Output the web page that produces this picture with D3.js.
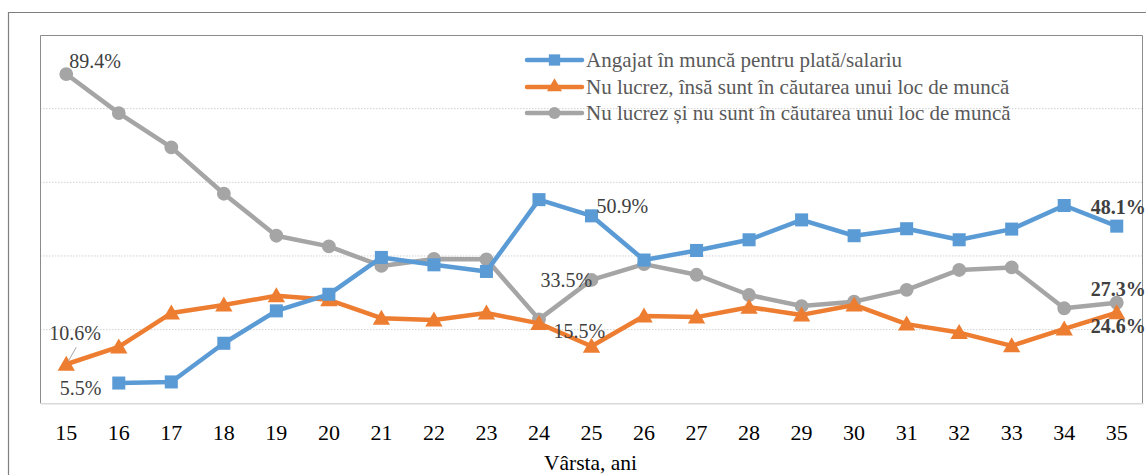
<!DOCTYPE html>
<html>
<head>
<meta charset="utf-8">
<script src="https://cdn.jsdelivr.net/npm/d3@7"></script>
<style>
  html, body { margin: 0; padding: 0; background: #fff; }
  svg { display: block; }
</style>
</head>
<body>
<svg id="chart" width="1146" height="475"></svg>
<script>
const ages = [15,16,17,18,19,20,21,22,23,24,25,26,27,28,29,30,31,32,33,34,35];
const employed = [null,5.5,5.8,16.3,25.1,29.6,39.6,37.6,35.8,55.3,50.9,38.9,41.5,44.4,49.8,45.5,47.4,44.4,47.3,53.7,48.1];
const seeking = [10.6,15.3,24.5,26.7,29.2,28.1,23.1,22.6,24.5,21.7,15.5,23.7,23.4,26.1,24.0,26.7,21.5,19.2,15.6,20.2,24.6];
const notSeeking = [89.4,78.8,69.5,56.9,45.5,42.6,37.3,39.2,39.1,22.8,33.5,37.8,34.9,29.4,26.4,27.6,30.8,36.2,36.9,25.8,27.3];
const seriesNames = [
  "Angajat în muncă pentru plată/salariu",
  "Nu lucrez, însă sunt în căutarea unui loc de muncă",
  "Nu lucrez și nu sunt în căutarea unui loc de muncă"
];
const yTicks = [0,20,40,60,80,100];
const xTitle = "Vârsta, ani";

const svg = d3.select("#chart");
const plot = {left: 40, top: 35, right: 1143, bottom: 403.3};

const x = d3.scaleBand().domain(ages).range([plot.left, plot.right]);
const xc = a => x(a) + x.bandwidth() / 2;
const y = d3.scaleLinear().domain([0, 100]).range([plot.bottom, plot.top]);

const font = "Liberation Serif";

// outer frame
svg.append("path").attr("d", "M8.5,475 V12.5 H1146")
  .attr("fill", "none").attr("stroke", "#7f7f7f").attr("stroke-width", 1.2);

// gridlines
svg.append("g").selectAll("line").data(yTicks.filter(t => t > 0 && t < 100)).join("line")
  .attr("x1", plot.left).attr("x2", plot.right)
  .attr("y1", d => y(d)).attr("y2", d => y(d))
  .attr("stroke", "#d0d0d0").attr("stroke-width", 1).attr("stroke-dasharray", "1.5,1.5");

// plot border (top, left, right)
svg.append("path")
  .attr("d", `M${plot.left+0.5},${plot.bottom} V${plot.top+0.5} H${plot.right-0.5} V${plot.bottom}`)
  .attr("fill", "none").attr("stroke", "#8c8c8c").attr("stroke-width", 1);

// x axis
const xAxis = d3.axisBottom(x).tickSize(0).tickPadding(0);
const gx = svg.append("g").attr("transform", `translate(0,${plot.bottom})`).call(xAxis);
gx.select(".domain").attr("stroke", "#d9d9d9").attr("stroke-width", 1.5);
gx.selectAll("text").attr("font-family", font).attr("font-size", 22).attr("fill", "#000")
  .attr("dy", null).attr("y", 37);

svg.append("text").attr("x", (plot.left + plot.right) / 2 - 1).attr("y", 470)
  .attr("text-anchor", "middle").attr("font-family", font).attr("font-size", 21.5)
  .attr("fill", "#000").text(xTitle);

const colors = ["#5B9BD5", "#ED7D31", "#A5A5A5"];
const datas = [employed, seeking, notSeeking];
const symbols = [d3.symbolSquare, d3.symbolTriangle, d3.symbolCircle];
const sizes = [170, 130, 150];

const line = d3.line().defined(d => d[1] !== null).x(d => xc(d[0])).y(d => y(d[1]));

const order = [2, 1, 0];
order.forEach(i => {
  const pts = ages.map((a, j) => [a, datas[i][j]]);
  svg.append("path").datum(pts).attr("d", line)
    .attr("fill", "none").attr("stroke", colors[i]).attr("stroke-width", 4.5)
    .attr("stroke-linejoin", "round");
  svg.append("g").selectAll("path").data(pts.filter(d => d[1] !== null)).join("path")
    .attr("transform", d => `translate(${xc(d[0])},${y(d[1]) + (i === 1 ? 1.5 : 0)})`)
    .attr("d", d3.symbol().type(symbols[i]).size(sizes[i]))
    .attr("fill", colors[i]);
});

// legend
const legX = 527, legY = [60, 87, 113];
seriesNames.forEach((name, i) => {
  const g = svg.append("g").attr("transform", `translate(${legX},${legY[i]})`);
  g.append("line").attr("x1", 0).attr("x2", 55).attr("stroke", colors[i])
    .attr("stroke-width", 4.5).attr("stroke-linecap", "round");
  g.append("path").attr("transform", "translate(27.5,0)")
    .attr("d", d3.symbol().type(symbols[i]).size(sizes[i] * 0.75)).attr("fill", colors[i]);
  g.append("text").attr("x", 59).attr("y", 7).attr("font-family", font)
    .attr("font-size", 21).attr("fill", "#595959").text(name);
});

// data labels
const fmt = v => v.toFixed(1) + "%";
const labels = [
  {s: 2, age: 15, dx: 3, dy: -6, bold: false},
  {s: 0, age: 16, dx: -59, dy: 12, bold: false},
  {s: 1, age: 15, dx: -17, dy: -24, bold: false},
  {s: 0, age: 25, dx: 5, dy: -3, bold: false},
  {s: 2, age: 25, dx: -51, dy: 7, bold: false},
  {s: 1, age: 25, dx: -38, dy: -8, bold: false},
  {s: 0, age: 35, dx: -26, dy: -12, bold: true},
  {s: 2, age: 35, dx: -26, dy: -7, bold: true},
  {s: 1, age: 35, dx: -26, dy: 20, bold: true}
];
labels.forEach(l => {
  const v = datas[l.s][ages.indexOf(l.age)];
  svg.append("text").attr("x", xc(l.age) + l.dx).attr("y", y(v) + l.dy)
    .attr("font-family", font).attr("font-size", 20)
    .attr("font-weight", l.bold ? "bold" : "normal")
    .attr("fill", "#404040").text(fmt(v));
});
// leader line for 10.6%
const v15 = seeking[0];
svg.append("line").attr("x1", xc(15) + 10).attr("y1", y(v15) - 17)
  .attr("x2", xc(15) + 2).attr("y2", y(v15) - 3)
  .attr("stroke", "#a6a6a6").attr("stroke-width", 1);
</script>
</body>
</html>
